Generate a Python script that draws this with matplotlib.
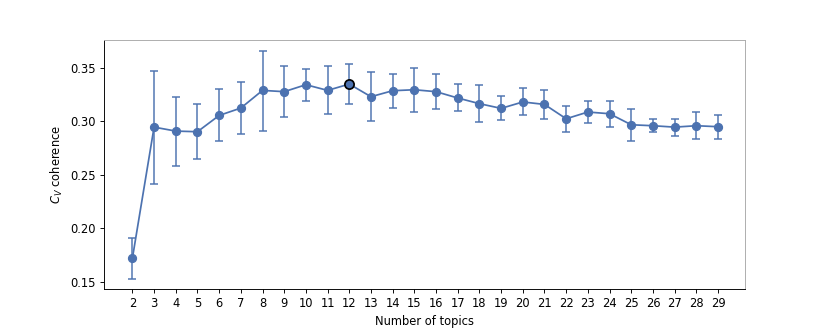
import numpy as np
import matplotlib
matplotlib.use('Agg')
import matplotlib.pyplot as plt

# coherence per number of topics (mean and error-bar ends)
n_topics = list(range(2, 30))
cv_mean = [0.172, 0.2945, 0.2908, 0.2902, 0.3054, 0.3123, 0.3288, 0.3276, 0.3341,
           0.3288, 0.3347, 0.3229, 0.3285, 0.3294, 0.3276, 0.3217, 0.3164, 0.3120,
           0.3180, 0.3157, 0.3023, 0.3086, 0.3070, 0.2967, 0.2958, 0.2945, 0.2958, 0.2949]
cv_upper = [0.191, 0.347, 0.3229, 0.316, 0.330, 0.3363, 0.366, 0.3512, 0.3488,
            0.3516, 0.3537, 0.3456, 0.3444, 0.350, 0.3438, 0.3344, 0.3338, 0.3238,
            0.3307, 0.3288, 0.3142, 0.3192, 0.3189, 0.3114, 0.302, 0.3023, 0.3089, 0.3061]
cv_lower = [0.153, 0.2416, 0.2584, 0.265, 0.2815, 0.288, 0.2911, 0.3042, 0.3185,
            0.3064, 0.316, 0.3002, 0.3126, 0.3082, 0.3114, 0.3092, 0.2989, 0.3008,
            0.3058, 0.302, 0.2902, 0.298, 0.2942, 0.2818, 0.2902, 0.2862, 0.2834, 0.2834]
best_k = 12

blue = '#4c72b0'

x = np.array(n_topics)
m = np.array(cv_mean)
yerr = [m - np.array(cv_lower), np.array(cv_upper) - m]

fig, ax = plt.subplots(figsize=(10, 4), dpi=83)
fig.subplots_adjust(left=0.125, right=0.898, top=0.88, bottom=0.13)

ax.errorbar(x, m, yerr=yerr, fmt='none', ecolor=blue, elinewidth=1.5,
            capsize=3.5, capthick=1.5, alpha=0.85, zorder=2)
ax.plot(x, m, '-o', color=blue, lw=1.5, ms=7, zorder=3)
i = n_topics.index(best_k)
ax.plot(x[i], m[i], 'o', color=blue, ms=8, mec='black', mew=1.5, zorder=4)

ax.set_xticks(n_topics)
ax.set_yticks([0.15, 0.20, 0.25, 0.30, 0.35])
ax.set_xlim(0.68, 30.26)
ax.set_ylim(0.1435, 0.376)
ax.set_xlabel('Number of topics')
ax.set_ylabel('$C_V$ coherence')
for s in ['top', 'right']:
    ax.spines[s].set_color('#aaaaaa')

plt.savefig('out.png', dpi=83)
